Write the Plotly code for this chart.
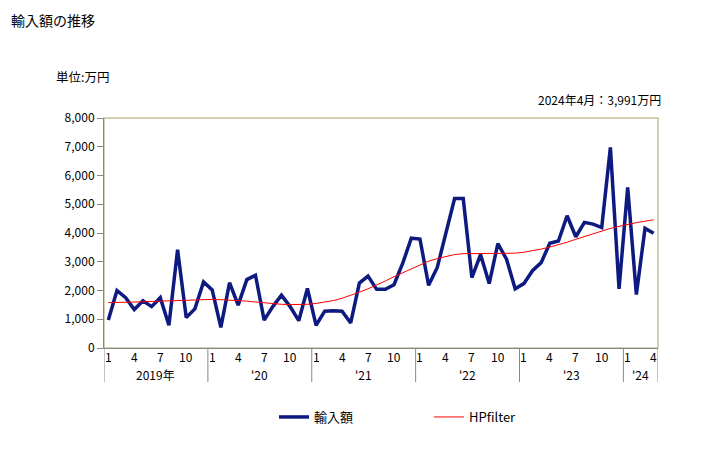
import plotly.graph_objects as go

years = ["2019年", "'20", "'21", "'22", "'23", "'24"]
months_per_year = [12, 12, 12, 12, 12, 4]
month_tick_labels = ["1", "4", "7", "10"]

imports = [
    970, 2000, 1750, 1340, 1640, 1440, 1750, 790, 3420, 1060, 1360, 2300,
    2020, 720, 2270, 1490, 2380, 2530, 970, 1440, 1840, 1440, 950, 2070,
    790, 1280, 1300, 1280, 870, 2260, 2500, 2040, 2040, 2200, 2940, 3820,
    3790, 2180, 2800, 4010, 5200, 5200, 2450, 3250, 2240, 3630, 3090, 2060,
    2240, 2690, 2970, 3640, 3720, 4600, 3870, 4370, 4310, 4190, 6980, 2060,
    5590, 1860, 4160, 3991,
]
hpfilter = [
    1580, 1580, 1590, 1600, 1610, 1620, 1640, 1660, 1670, 1680, 1690, 1690,
    1690, 1680, 1670, 1650, 1630, 1600, 1570, 1540, 1520, 1510, 1510, 1520,
    1550, 1600, 1650, 1730, 1830, 1940, 2060, 2190, 2330, 2480, 2620, 2760,
    2900, 3020, 3110, 3190, 3250, 3280, 3290, 3290, 3290, 3290, 3290, 3300,
    3330, 3380, 3440, 3510, 3590, 3680, 3780, 3880, 3980, 4070, 4160, 4230,
    4300, 4360, 4410, 4460,
]

n = len(imports)
xs = list(range(n))
FONT = "Noto Sans CJK JP"

# page has an 8px body margin: screen px = figure px + 8
OFF = 8
W, H = 728, 450
L = 104 - OFF
T = 118 - OFF
R = W - (658 - OFF)
B = H - (348 - OFF)
pw, ph = W - L - R, H - T - B


def px_x(p):  # screen px -> paper
    return (p - OFF - L) / pw


def px_y(p):
    return (H - B - (p - OFF)) / ph


fig = go.Figure()
fig.add_trace(go.Scatter(x=xs, y=imports, mode="lines", name="輸入額",
                         line=dict(color="#0d1a80", width=3.5)))
fig.add_trace(go.Scatter(x=xs, y=hpfilter, mode="lines", name="HPfilter",
                         line=dict(color="#ff0000", width=1)))

shapes = []
annotations = []
shapes.append(dict(type="rect", xref="paper", yref="paper", x0=0, x1=1, y0=0, y1=1,
                   line=dict(color="#c8bf98", width=1.5), layer="below"))

# year separators
bounds = [-0.5]
start = 0
for cnt in months_per_year:
    start += cnt
    bounds.append(start - 0.5)
for b in bounds:
    shapes.append(dict(type="line", xref="x", yref="paper", x0=b, x1=b, y0=0, y1=px_y(382),
                       line=dict(color="#888888", width=1)))

# month and year labels
start = 0
for yl, cnt in zip(years, months_per_year):
    for m in range(cnt):
        if str(m + 1) in month_tick_labels:
            annotations.append(dict(x=start + m, y=0, xref="x", yref="paper", text=str(m + 1),
                                    showarrow=False, yanchor="middle", yshift=-8,
                                    font=dict(size=12, color="#000", family=FONT)))
    annotations.append(dict(x=start + (cnt - 1) / 2, y=0, xref="x", yref="paper", text=yl,
                            showarrow=False, yanchor="middle", yshift=-26,
                            font=dict(size=12, color="#000", family=FONT)))
    start += cnt

annotations += [
    dict(x=px_x(9), y=px_y(8), xref="paper", yref="paper", text="輸入額の推移", showarrow=False,
         xanchor="left", yanchor="top", font=dict(size=14, color="#000", family=FONT)),
    dict(x=px_x(54), y=px_y(77), xref="paper", yref="paper", text="単位:万円", showarrow=False,
         xanchor="left", yanchor="middle", font=dict(size=12.5, color="#000", family=FONT)),
    dict(x=px_x(663), y=px_y(99), xref="paper", yref="paper", text="2024年4月：3,991万円", showarrow=False,
         xanchor="right", yanchor="middle", font=dict(size=12, color="#000", family=FONT)),
]

fig.update_layout(
    width=W, height=H,
    margin=dict(l=L, r=R, t=T, b=B, autoexpand=False),
    paper_bgcolor="white", plot_bgcolor="white",
    font=dict(family=FONT, size=12, color="#000"),
    showlegend=True,
    legend=dict(orientation="h", x=px_x(274), xanchor="left", y=px_y(402), yanchor="top",
                entrywidth=110, font=dict(size=13, family=FONT), itemwidth=30,
                bgcolor="rgba(0,0,0,0)"),
    shapes=shapes, annotations=annotations,
)
fig.update_xaxes(range=[-0.5, n - 0.5], showticklabels=False,
                 showgrid=False, zeroline=False, showline=True, linecolor="#888888", ticks="")
fig.update_yaxes(range=[0, 8000], dtick=1000, tickformat=",", showgrid=False, zeroline=False,
                 showline=True, linecolor="#888888", ticks="outside", ticklen=6, tickcolor="#888888",
                 tickfont=dict(size=12))

fig.write_html("out.html")
